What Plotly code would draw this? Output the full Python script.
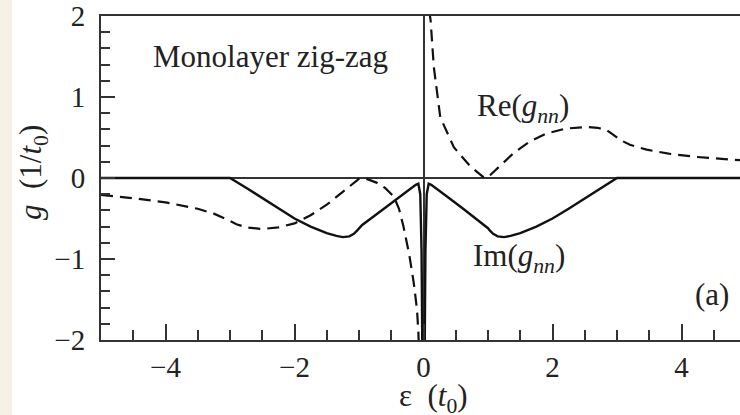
import plotly.graph_objects as go

# Im(g_nn) : solid curve
im_x = [-5, -3.0, -2.75, -2.5, -2.25, -2.0, -1.75, -1.5, -1.35, -1.25, -1.15, -1.08, -1.03, -1.0, -0.95,
        -0.8, -0.6, -0.4, -0.2, -0.12, -0.08, -0.05, -0.03, -0.015, 0.0,
        0.015, 0.03, 0.05, 0.08, 0.12, 0.2, 0.4, 0.6, 0.8, 0.95, 1.0, 1.03, 1.08, 1.15, 1.25, 1.35,
        1.5, 1.75, 2.0, 2.25, 2.5, 2.75, 3.0, 5]
im_y = [0, 0, -0.12, -0.25, -0.38, -0.50, -0.60, -0.68, -0.715, -0.73, -0.72, -0.69, -0.65, -0.62, -0.58,
        -0.49, -0.37, -0.25, -0.13, -0.085, -0.07, -0.2, -0.9, -2.5, -4.0,
        -2.5, -0.9, -0.2, -0.07, -0.085, -0.13, -0.25, -0.37, -0.49, -0.58, -0.62, -0.65, -0.69, -0.72, -0.73, -0.715,
        -0.68, -0.60, -0.50, -0.38, -0.25, -0.12, 0, 0]

# Re(g_nn) : dashed curve, left branch (eps < 0)
re_left_x = [-5, -4.5, -4.0, -3.5, -3.25, -3.1, -3.0, -2.9, -2.75, -2.5, -2.25, -2.0, -1.75, -1.5, -1.25,
             -1.1, -1.0, -0.95, -0.85, -0.72, -0.6, -0.46, -0.38, -0.31, -0.22, -0.15, -0.10, -0.08, -0.06]
re_left_y = [-0.21, -0.25, -0.30, -0.38, -0.44, -0.49, -0.53, -0.57, -0.61, -0.63, -0.61, -0.56, -0.46, -0.33, -0.17,
             -0.07, -0.01, 0.0, -0.02, -0.06, -0.12, -0.23, -0.38, -0.6, -0.95, -1.3, -1.63, -1.9, -2.3]

# Re(g_nn) : dashed curve, right branch (eps > 0)
re_right_x = [0.06, 0.08, 0.11, 0.16, 0.26, 0.47, 0.73, 0.93, 0.98, 1.04, 1.2, 1.4, 1.65, 1.91, 2.2, 2.53,
              2.7, 2.84, 2.95, 3.05, 3.2, 3.46, 3.8, 4.23, 4.9, 5.0]
re_right_y = [2.3, 2.1, 1.95, 1.37, 0.75, 0.38, 0.14, 0.01, 0.0, 0.04, 0.16, 0.31, 0.45, 0.55, 0.61, 0.63,
              0.62, 0.59, 0.53, 0.47, 0.41, 0.35, 0.30, 0.26, 0.22, 0.215]

x_ticks = [-4, -2, 0, 2, 4]
x_ticklabels = ["\u22124", "\u22122", "0", "2", "4"]
y_ticks = [-2, -1, 0, 1, 2]
y_ticklabels = ["\u22122", "\u22121", "0", "1", "2"]

FONT = "Liberation Serif, Times New Roman, serif"
INK = "#111111"
AX = "#333333"
TXT = "#222222"

fig = go.Figure()
fig.add_trace(go.Scatter(x=re_left_x, y=re_left_y, mode="lines",
                         line=dict(color=INK, width=2.2, dash="12px,7px"), showlegend=False))
fig.add_trace(go.Scatter(x=re_right_x, y=re_right_y, mode="lines",
                         line=dict(color=INK, width=2.2, dash="12px,7px"), showlegend=False))
fig.add_trace(go.Scatter(x=im_x, y=im_y, mode="lines",
                         line=dict(color=INK, width=2.4), showlegend=False))

L, R, T, B = 101, 0, 16, 75
W, H = 740, 415
pw = W - L - R
ph = H - T - B

def px_to_paper_x(px):
    return (px - L) / pw

def px_to_paper_y(py):
    return (H - B - py) / ph

tick_font = dict(family=FONT, size=29, color=TXT)

fig.update_layout(
    width=W, height=H,
    margin=dict(l=L, r=R, t=T, b=B, pad=0, autoexpand=False),
    paper_bgcolor="white", plot_bgcolor="white",
    font=dict(family=FONT, size=29, color=TXT),
    hovermode=False,
    xaxis=dict(range=[-5, 4.907], tickvals=x_ticks, ticktext=x_ticklabels, automargin=False,
               ticks="inside", ticklen=16, tickwidth=1.5, tickcolor=AX,
               minor=dict(dtick=0.5, tick0=0, ticks="inside", ticklen=10, tickwidth=1.5, tickcolor=AX),
               showline=True, linecolor=AX, linewidth=2, mirror=True,
               showgrid=False, zeroline=True, zerolinecolor=AX, zerolinewidth=1.5,
               tickfont=tick_font, ticklabelstandoff=0),
    yaxis=dict(range=[-2, 2], tickvals=y_ticks, ticktext=y_ticklabels, automargin=False,
               ticks="inside", ticklen=14, tickwidth=1.5, tickcolor=AX,
               minor=dict(dtick=0.2, tick0=0, ticks="inside", ticklen=9, tickwidth=1.5, tickcolor=AX),
               showline=True, linecolor=AX, linewidth=2, mirror=False,
               showgrid=False, zeroline=True, zerolinecolor=AX, zerolinewidth=1.5,
               tickfont=tick_font, ticklabelstandoff=8),
    shapes=[dict(type="rect", xref="paper", yref="paper",
                 x0=px_to_paper_x(0), x1=px_to_paper_x(12),
                 y0=px_to_paper_y(H), y1=px_to_paper_y(0),
                 fillcolor="#f5f2e5", line=dict(width=0), layer="below")],
)

ann_font = dict(family=FONT, size=31, color=TXT)
fig.add_annotation(x=-4.23, y=1.5, xref="x", yref="y", text="Monolayer zig-zag",
                   showarrow=False, xanchor="left", yanchor="middle", font=ann_font)
fig.add_annotation(x=0.8, y=0.87, xref="x", yref="y",
                   text="Re(<i>g</i><sub><i>nn</i></sub>)",
                   showarrow=False, xanchor="left", yanchor="middle", font=ann_font)
fig.add_annotation(x=0.74, y=-0.99, xref="x", yref="y",
                   text="Im(<i>g</i><sub><i>nn</i></sub>)",
                   showarrow=False, xanchor="left", yanchor="middle", font=ann_font)
fig.add_annotation(x=4.18, y=-1.44, xref="x", yref="y", text="(a)",
                   showarrow=False, xanchor="left", yanchor="middle", font=ann_font)
fig.add_annotation(x=0.15, y=px_to_paper_y(398), xref="x", yref="paper",
                   text="\u03b5  (<i>t</i><sub>0</sub>)",
                   showarrow=False, xanchor="center", yanchor="middle", font=ann_font)
fig.add_annotation(x=px_to_paper_x(33), y=px_to_paper_y(173), xref="paper", yref="paper",
                   text="<i>g</i>  (1/<i>t</i><sub>0</sub>)", textangle=-90,
                   showarrow=False, xanchor="center", yanchor="middle", font=ann_font)

fig.write_html("out.html", config={"displayModeBar": False},
               post_script="document.body.style.margin='0px';document.body.style.overflow='hidden';")
